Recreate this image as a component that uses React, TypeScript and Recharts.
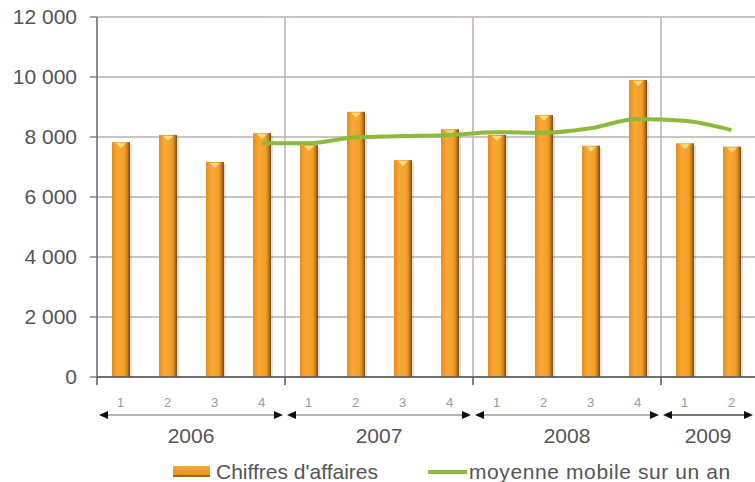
import React from "react";
import {
  ComposedChart,
  Bar,
  Line,
  XAxis,
  YAxis,
  CartesianGrid,
  Legend,
} from "recharts";

const YEARS = ["2006", "2006", "2006", "2006", "2007", "2007", "2007", "2007", "2008", "2008", "2008", "2008", "2009", "2009"];
const QUARTERS = ["1", "2", "3", "4", "1", "2", "3", "4", "1", "2", "3", "4", "1", "2"];
const SALES = [7830, 8070, 7170, 8130, 7730, 8840, 7230, 8260, 8070, 8730, 7710, 9900, 7790, 7680];
const MOVING_AVG = [null, null, null, 7790, 7790, 7990, 8030, 8070, 8160, 8140, 8290, 8600, 8540, 8230];
const Y_TICKS = [0, 2000, 4000, 6000, 8000, 10000, 12000];

const data = YEARS.map((y, i) => ({
  key: `${y}-${QUARTERS[i]}`,
  year: y,
  quarter: QUARTERS[i],
  ca: SALES[i],
  mm: MOVING_AVG[i],
}));

const W = 755;
const H = 482;
const Y_AXIS_W = 97;
const PLOT_W = W - Y_AXIS_W;
const BAND = PLOT_W / data.length;
const FONT = "'Liberation Sans', Arial, sans-serif";
const GREEN = "#8db93d";

const fmt = (v: number) => String(v).replace(/\B(?=(\d{3})+(?!\d))/g, " ");

const yearStarts = data
  .map((d, i) => (i > 0 && d.year !== data[i - 1].year ? i : -1))
  .filter((i) => i > 0);

function BarShape(props: any) {
  const { x, y, width, height, index } = props;
  if (!height || height <= 0) return null;
  const id = `bg-${index}`;
  const cx = x + width / 2;
  return (
    <g>
      <defs>
        <linearGradient id={id} x1="0" y1="0" x2="1" y2="0">
          <stop offset="0%" stopColor="#e58d1d" />
          <stop offset="30%" stopColor="#f8a832" />
          <stop offset="68%" stopColor="#f5a12b" />
          <stop offset="82%" stopColor="#d88a1f" />
          <stop offset="100%" stopColor="#6f4a1e" />
        </linearGradient>
      </defs>
      <rect x={x + width} y={y + 2} width={2} height={height - 2} fill="rgba(0,0,0,0.12)" />
      <rect x={x} y={y} width={width} height={height} fill={`url(#${id})`} />
      <polygon
        points={`${cx - 5},${y + 1} ${cx + 5},${y + 1} ${cx},${y + 6}`}
        fill="#fde08a"
        opacity={0.9}
      />
    </g>
  );
}

function QuarterTick(props: any) {
  const { x, y, payload } = props;
  const i = payload.index;
  const d = data[i];
  const first = i === 0 || data[i - 1].year !== d.year;
  let bracket = null;
  if (first) {
    const n = data.filter((e) => e.year === d.year).length;
    const xs = x - BAND / 2;
    const xe = xs + n * BAND;
    const ay = y + 38;
    bracket = (
      <g>
        <line x1={xs} y1={y} x2={xs} y2={y + 8} stroke="#555" strokeWidth={1.5} />
        <line x1={xs + 4} y1={ay} x2={xe - 4} y2={ay} stroke={d.year === "2009" ? "#777" : "#a09a96"} strokeWidth={d.year === "2009" ? 2 : 1.5} />
        <polygon points={`${xs + 2},${ay} ${xs + 11},${ay - 4} ${xs + 11},${ay + 4}`} fill="#111" />
        <polygon points={`${xe - 2},${ay} ${xe - 11},${ay - 4} ${xe - 11},${ay + 4}`} fill="#111" />
        <text
          x={(xs + xe) / 2}
          y={y + 66}
          textAnchor="middle"
          fontSize={21}
          fill="#555"
          fontFamily={FONT}
        >
          {d.year}
        </text>
      </g>
    );
  }
  return (
    <g>
      <text x={x} y={y + 30} textAnchor="middle" fontSize={13} fill="#999" fontFamily={FONT}>
        {d.quarter}
      </text>
      {bracket}
    </g>
  );
}

function LegendContent() {
  return (
    <div
      style={{
        display: "flex",
        alignItems: "center",
        paddingLeft: 173,
        paddingTop: 6,
        height: 21,
        fontFamily: FONT,
        fontSize: 21,
        color: "#555",
        lineHeight: "22px",
        whiteSpace: "nowrap",
      }}
    >
      <span
        style={{
          display: "inline-block",
          width: 37,
          height: 9,
          background: "linear-gradient(#f8aa36, #e8931f)",
          borderBottom: "2px solid #9a6a28",
          marginRight: 6,
        }}
      />
      <span>Chiffres d'affaires</span>
      <span
        style={{
          display: "inline-block",
          width: 39,
          height: 4,
          background: GREEN,
          marginLeft: 50,
          marginRight: 2,
        }}
      />
      <span style={{ letterSpacing: 0.6 }}>moyenne mobile sur un an</span>
    </div>
  );
}

export default function App() {
  return (
    <div style={{ position: "absolute", left: 0, top: 0, width: W, height: H, background: "#fff" }}>
      <ComposedChart width={W} height={H} data={data} margin={{ top: 17, right: 0, left: 0, bottom: 0 }}>
        <CartesianGrid
          stroke="#b9b2ae"
          strokeWidth={1.5}
          vertical={true}
          verticalCoordinatesGenerator={({ offset }: any) =>
            yearStarts.map((i) => offset.left + (i * offset.width) / data.length)
          }
        />
        <XAxis
          dataKey="key"
          height={78}
          tickSize={0}
          tickMargin={0}
          interval={0}
          axisLine={{ stroke: "#555", strokeWidth: 1.5 }}
          tick={<QuarterTick />}
        />
        <YAxis
          width={Y_AXIS_W}
          domain={[0, 12000]}
          ticks={Y_TICKS}
          tickFormatter={fmt}
          tickSize={7}
          tickMargin={13}
          axisLine={{ stroke: "#666", strokeWidth: 1.5 }}
          tickLine={{ stroke: "#8a8480", strokeWidth: 1.5 }}
          tick={{ fontSize: 21, fill: "#555", fontFamily: FONT }}
        />
        <Bar dataKey="ca" name="Chiffres d'affaires" barSize={18} shape={<BarShape />} isAnimationActive={false} />
        <Line
          dataKey="mm"
          name="moyenne mobile sur un an"
          type="monotone"
          stroke={GREEN}
          strokeWidth={4}
          dot={false}
          activeDot={false}
          isAnimationActive={false}
        />
        <Legend
          verticalAlign="bottom"
          height={27}
          wrapperStyle={{ left: 0, width: W, height: 27 }}
          content={<LegendContent />}
        />
      </ComposedChart>
    </div>
  );
}
